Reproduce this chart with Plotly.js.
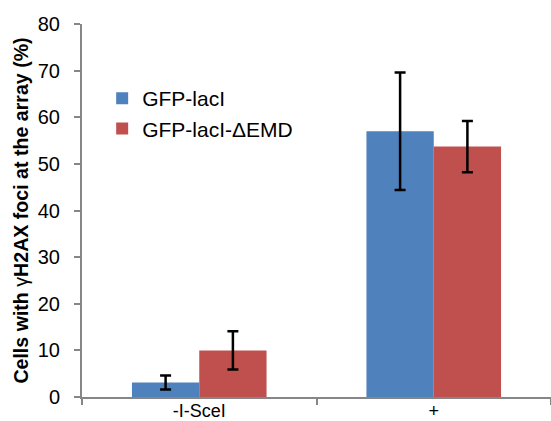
<!DOCTYPE html>
<html>
<head>
<meta charset="utf-8">
<script src="https://cdn.plot.ly/plotly-3.0.1.min.js"></script>
<style>html,body{margin:0;padding:0;background:#fff;}</style>
</head>
<body>
<div id="chart" style="width:551px;height:421px;"></div>
<script>
var categories = ["-I-SceI", "+"];
var seriesNames = ["GFP-lacI", "GFP-lacI-\u0394EMD"];
var gfpLacI = [3.1, 57.0];
var gfpLacIErr = [1.5, 12.6];
var gfpLacIDEMD = [10.0, 53.7];
var gfpLacIDEMDErr = [4.1, 5.5];
var yTicks = [0, 10, 20, 30, 40, 50, 60, 70, 80];

var errStyle = {type: "data", visible: true, color: "#000000", thickness: 2.5, width: 5.5};

var traces = [
  {type: "bar", name: seriesNames[0], x: categories, y: gfpLacI, legendgroup: "a",
   error_y: Object.assign({array: gfpLacIErr}, errStyle),
   marker: {color: "#4F81BD"}},
  {type: "bar", name: seriesNames[1], x: categories, y: gfpLacIDEMD, legendgroup: "b",
   error_y: Object.assign({array: gfpLacIDEMDErr}, errStyle),
   marker: {color: "#C0504D"}}
];

var layout = {
  width: 551, height: 421,
  margin: {l: 82, r: 0, t: 24, b: 24, pad: 0},
  paper_bgcolor: "#ffffff", plot_bgcolor: "#ffffff",
  font: {family: "Liberation Sans, Arial, sans-serif", size: 19, color: "#000000"},
  barmode: "group", bargap: 0.426, bargroupgap: 0,
  showlegend: true,
  legend: {x: 0.043, y: 0.855, xanchor: "left", yanchor: "top", bgcolor: "rgba(0,0,0,0)",
           font: {size: 21}, tracegroupgap: 4, itemwidth: 30, traceorder: "normal"},
  xaxis: {type: "category", showline: true, linecolor: "#868686", linewidth: 2,
          ticks: "outside", tickson: "boundaries", ticklen: 6, tickwidth: 2, tickcolor: "#868686",
          ticklabelstandoff: -4,
          tickfont: {size: 18}, showgrid: false, zeroline: false, fixedrange: true},
  yaxis: {range: [0, 80], tickvals: yTicks, showline: true, linecolor: "#868686", linewidth: 2,
          ticks: "outside", ticklen: 6, tickwidth: 2, tickcolor: "#868686", ticklabelstandoff: 10,
          showgrid: false, zeroline: false, tickfont: {size: 20},
          title: {text: "<b>Cells with </b>\u03b3<b>H2AX foci at the array (%)</b>", font: {size: 19.6}, standoff: 4}}
};

Plotly.newPlot("chart", traces, layout, {displayModeBar: false, staticPlot: true});
</script>
</body>
</html>
